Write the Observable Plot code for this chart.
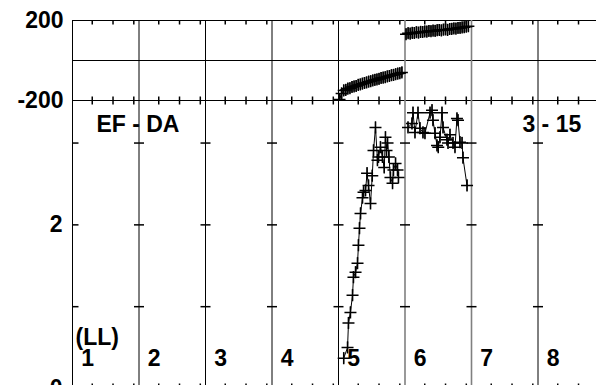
<!DOCTYPE html>
<html>
<head>
<meta charset="utf-8">
<script src="https://cdn.jsdelivr.net/npm/d3@7"></script>
<script src="https://cdn.jsdelivr.net/npm/@observablehq/plot@0.6"></script>
<style>
html, body { margin: 0; padding: 0; background: #fff; overflow: hidden; width: 596px; height: 385px; }
#chart { width: 604px; }
#chart svg { display: block; overflow: visible; max-width: none !important; }
#chart svg text { font-family: "Liberation Sans", Arial, Helvetica, sans-serif; font-weight: bold; font-size: 23px; }
</style>
</head>
<body>
<div id="chart"></div>
<script>
// ---------- data ----------
const channelsPerIF = 64;
const ifLabels = ["1", "2", "3", "4", "5", "6", "7", "8"];
const chanTicks = [20, 40, 60];
const phaseLabels = [-200, 200];
const ampLabels = [0, 2];
const ampTickVals = [1, 2, 3];
const baselineLabel = "EF - DA";
const timeLabel = "3 - 15";
const polLabel = "(LL)";

const phaseChannels = [2, 4, 6, 8, 10, 12, 14, 16, 18, 20, 22, 24, 26, 28, 30, 32, 34, 36, 38, 40, 42, 44, 46, 48, 50, 52, 54, 56, 58, 60, 62];
const phaseIF5 = [-195, -165, -150, -147, -141, -139, -133, -130, -128, -122, -120, -116, -113, -110, -106, -104, -100, -97, -95, -92, -88, -86, -84, -80, -78, -74, -72, -69, -66, -64, -60];
const phaseIF6 = [131, 136, 134, 138, 137, 141, 139, 143, 142, 145, 144, 147, 146, 149, 148, 151, 152, 150, 154, 155, 153, 157, 158, 160, 159, 162, 163, 165, 166, 169, 171];
const phaseErr = 28;

const ampChannelsIF5 = [6, 9.7, 10.6, 12.5, 14.5, 15.4, 17.4, 19.3, 20.2, 21.2, 22.2, 24.1, 25.1, 27, 28.5, 29.9, 31.8, 33.5, 34.7, 36.6, 38.5, 39.5, 41.4, 43.3, 45, 46.2, 47.2, 48.2, 49.5, 51, 53, 53.9, 55.9, 57.8, 58.7];
const ampIF5 = [0.37, 0.50, 0.80, 0.93, 1.14, 1.36, 1.42, 1.53, 1.75, 1.96, 2.14, 2.33, 2.40, 2.42, 2.63, 2.48, 2.26, 2.60, 2.91, 3.19, 2.79, 2.83, 2.95, 2.83, 2.70, 3.07, 2.91, 3.00, 2.83, 2.58, 2.51, 2.67, 2.75, 2.67, 2.58];
const ampChannelsIF6 = [3.9, 7.7, 8.7, 10.6, 13.5, 15.4, 18.3, 20.2, 25.1, 27, 27.9, 29.9, 31.8, 33, 34.7, 36.6, 37.6, 41.4, 42.4, 44.3, 47.2, 49.1, 51, 52, 53.9, 55.9, 56.8, 60.7];
const ampIF6 = [3.19, 3.24, 3.37, 3.13, 3.37, 3.18, 3.13, 3.12, 3.37, 3.40, 3.28, 3.12, 2.97, 2.95, 3.07, 3.37, 3.19, 3.04, 3.00, 3.10, 3.00, 2.95, 3.30, 3.28, 3.01, 3.00, 2.82, 2.48];
const ampErr = 0.07;

// ---------- derived tables ----------
const pos = (ifNum, ch) => (ifNum - 1) * channelsPerIF + ch - 1;
const ifStarts = ifLabels.map((_, i) => i * channelsPerIF);
const tickPositions = ifStarts.flatMap(s => chanTicks.map(c => s + c - 1));
const phasePts = [
  ...phaseChannels.map((c, i) => ({ifn: 5, x: pos(5, c), y: phaseIF5[i]})),
  ...phaseChannels.map((c, i) => ({ifn: 6, x: pos(6, c), y: phaseIF6[i]}))
];
const ampPts = [
  ...ampChannelsIF5.map((c, i) => ({ifn: 5, x: pos(5, c), y: ampIF5[i]})),
  ...ampChannelsIF6.map((c, i) => ({ifn: 6, x: pos(6, c), y: ampIF6[i]}))
];
const dividerColor = (s) => (s === 5 * channelsPerIF || s === 6 * channelsPerIF) ? "#808080" : "black";

// ---------- symbols ----------
const seg = (pts) => ({draw(ctx) { for (const [a, b, c, d] of pts) { ctx.moveTo(a, b); ctx.lineTo(c, d); } }});
const plusSym = seg([[-6, 0, 6, 0], [0, -6, 0, 6]]);
const tickDown = seg([[0, 0, 0, 4]]);
const tickUp = seg([[0, 0, 0, -5]]);
const tickV = seg([[0, -4, 0, 4]]);
const tickH = seg([[-5, 0, 5, 0]]);
const tickHR = seg([[0, 0, 6, 0]]);

const FONT = "Liberation Sans, Arial, Helvetica, sans-serif";
const txt = {fontSize: 23, fontWeight: "bold", fill: "black"};
const W = 604;
const xScale = {domain: [0, 8 * channelsPerIF], axis: null};
const plotStyle = {fontFamily: FONT, background: "white", overflow: "visible", maxWidth: "none"};

// ---------- top panel: phase ----------
const phasePlot = Plot.plot({
  width: W, height: 100,
  marginTop: 20, marginBottom: 0, marginLeft: 72, marginRight: 0,
  style: plotStyle,
  x: xScale,
  y: {domain: [-200, 200]},
  marks: [
    Plot.ruleY([-200, 0, 200], {stroke: "black", strokeWidth: 1}),
    Plot.ruleX(ifStarts, {x: d => d, stroke: d => dividerColor(d), strokeWidth: d => dividerColor(d) === "black" ? 1 : 1.6}),
    Plot.dot(tickPositions, {x: d => d, y: 200, r: 3, symbol: tickDown, stroke: "black", fill: "none"}),
    Plot.dot(tickPositions, {x: d => d, y: -200, r: 3, symbol: tickV, stroke: "black", fill: "none"}),
    Plot.ruleX(phasePts, {x: "x", y1: d => d.y - phaseErr, y2: d => d.y + phaseErr, stroke: "#222", strokeWidth: 1.4, clip: true}),
    Plot.line(phasePts, {x: "x", y: "y", z: "ifn", stroke: "black", strokeWidth: 1.2, clip: true}),
    Plot.dot(phasePts, {x: "x", y: "y", r: 3, symbol: plusSym, stroke: "black", fill: "none", clip: true}),
    Plot.axisY({ticks: phaseLabels, tickSize: 0, tickPadding: 9, tickFormat: d => String(d), label: null, ...txt})
  ]
});

// ---------- bottom panel: amplitude ----------
const ampPlot = Plot.plot({
  width: W, height: 288,
  marginTop: 0, marginBottom: 0, marginLeft: 72, marginRight: 0,
  style: plotStyle,
  x: xScale,
  y: {domain: [0, 3.52]},
  marks: [
    Plot.ruleX(ifStarts, {x: d => d, stroke: d => dividerColor(d), strokeWidth: d => dividerColor(d) === "black" ? 1 : 1.6}),
    Plot.dot(ifStarts.slice(1).flatMap(s => ampTickVals.map(v => ({x: s, y: v}))), {x: "x", y: "y", r: 3, symbol: tickH, stroke: "black", fill: "none"}),
    Plot.dot(ampTickVals, {x: 0, y: d => d, r: 3, symbol: tickHR, stroke: "black", fill: "none"}),
    Plot.dot(tickPositions, {x: d => d, y: 0, r: 3, symbol: tickUp, stroke: "black", fill: "none"}),
    Plot.ruleX(ampPts, {x: "x", y1: d => d.y - ampErr, y2: d => d.y + ampErr, stroke: "#444", strokeWidth: 1.2, clip: true}),
    Plot.line(ampPts, {x: "x", y: "y", z: "ifn", stroke: "black", strokeWidth: 1, clip: true}),
    Plot.dot(ampPts, {x: "x", y: "y", r: 3, symbol: plusSym, stroke: "black", fill: "none", clip: true}),
    Plot.text([baselineLabel], {x: 23, y: 3.22, text: d => d, textAnchor: "start", lineAnchor: "middle", ...txt}),
    Plot.text([timeLabel], {x: 433, y: 3.22, text: d => d, textAnchor: "start", lineAnchor: "middle", ...txt}),
    Plot.text([polLabel], {x: 2.9, y: 0.62, text: d => d, textAnchor: "start", lineAnchor: "middle", ...txt}),
    Plot.text(ifLabels, {x: (d, i) => i * channelsPerIF + 14.5, y: 0.37, text: d => d, textAnchor: "middle", lineAnchor: "middle", ...txt}),
    Plot.axisY({ticks: ampLabels, tickSize: 0, tickPadding: 10, tickFormat: d => String(d), label: null, ...txt})
  ]
});

const chart = document.getElementById("chart");
chart.appendChild(phasePlot);
chart.appendChild(ampPlot);
</script>
</body>
</html>
